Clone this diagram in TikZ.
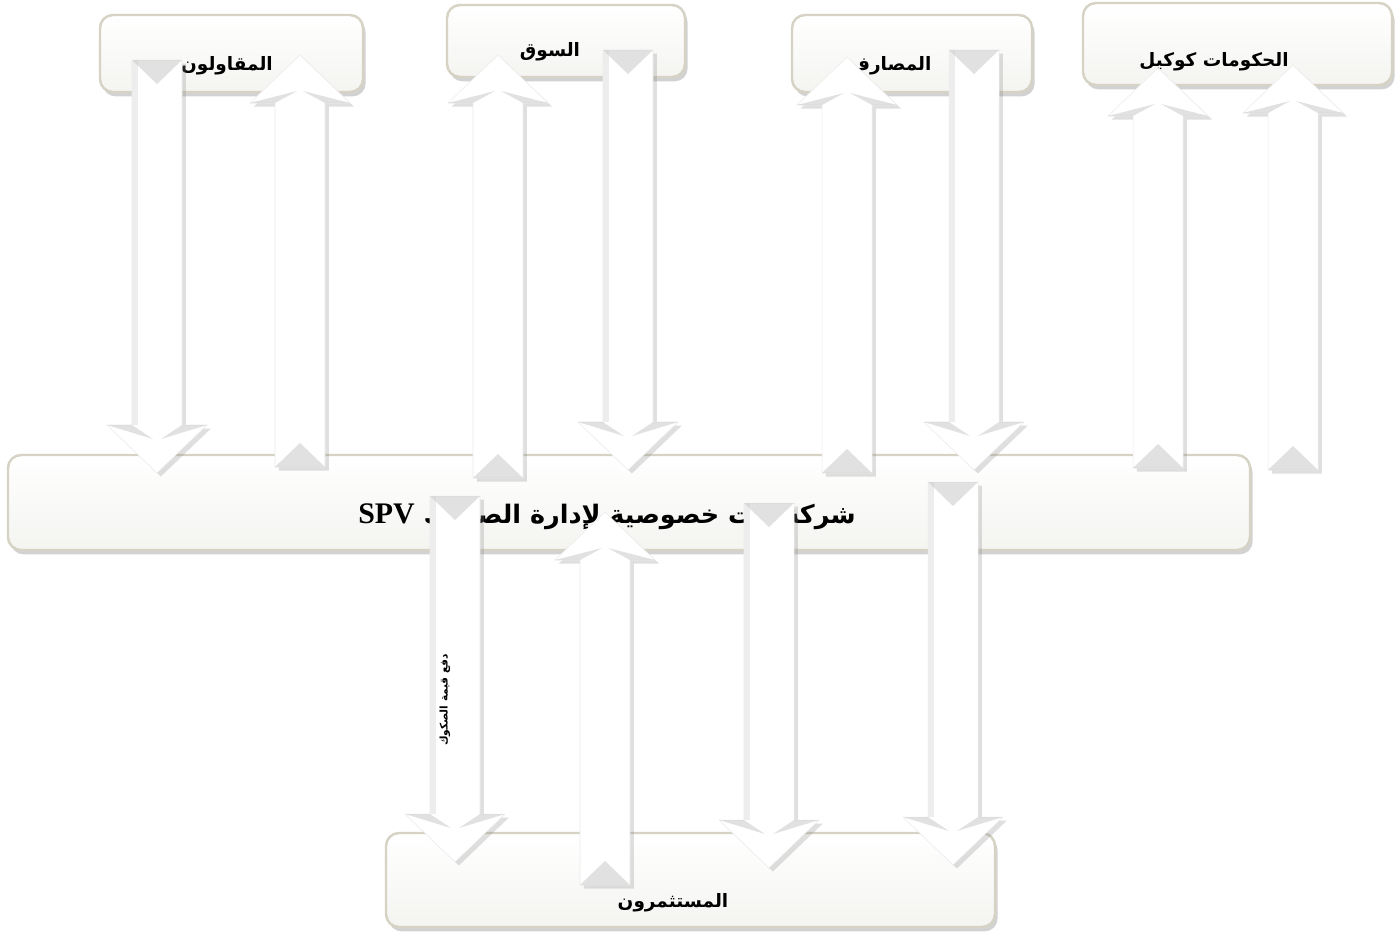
\documentclass[tikz,border=0pt]{standalone}
\usepackage{fontspec}
\setmainfont{Liberation Serif}
\newfontfamily\arabicfont[Script=Arabic]{DejaVu Sans}
\TeXXeTstate=1
\usetikzlibrary{shadows}

\definecolor{boxrim}{RGB}{214,211,196}
\definecolor{boxfill}{RGB}{244,244,241}
\definecolor{bevelgray}{RGB}{205,205,205}

\tikzset{
  panel/.style={draw=boxrim, line width=1.4pt, rounded corners=2.6mm,
    top color=white, bottom color=boxfill,
    drop shadow={shadow xshift=1.5pt, shadow yshift=-2.5pt, opacity=.35}},
  arrbody/.style={fill=white, draw=black!8, line width=.3pt,
    drop shadow={shadow xshift=2.2pt, shadow yshift=-2pt, opacity=.25}},
  bevel/.style={fill=bevelgray, opacity=.6},
  sidestrip/.style={fill=black!7},
  lbl/.style={font=\arabicfont\bfseries\fontsize{10.5}{13}\selectfont, inner sep=0pt},
}

% block arrow pointing down: centre x, top of shaft, tip
\newcommand{\blockdown}[3]{%
  \draw[arrbody] ({#1-25},#2) -- ({#1+25},#2) -- ({#1+25},{#3-48}) -- ({#1+50},{#3-48})
    -- (#1,#3) -- ({#1-50},{#3-48}) -- ({#1-25},{#3-48}) -- cycle;
  \fill[sidestrip] ({#1-25},#2) rectangle ({#1-19},{#3-48});
  \fill[bevel] ({#1-25},#2) -- ({#1+25},#2) -- (#1,{#2+24}) -- cycle;
  \fill[bevel] ({#1-50},{#3-48}) -- ({#1-25},{#3-48}) -- ({#1-4},{#3-34}) -- cycle;
  \fill[bevel] ({#1+50},{#3-48}) -- ({#1+25},{#3-48}) -- ({#1+4},{#3-34}) -- cycle;
}
% block arrow pointing up: centre x, tip, bottom of shaft
\newcommand{\blockup}[3]{%
  \draw[arrbody] ({#1-25},#3) -- ({#1-25},{#2+48}) -- ({#1-50},{#2+48}) -- (#1,#2)
    -- ({#1+50},{#2+48}) -- ({#1+25},{#2+48}) -- ({#1+25},#3) -- cycle;
  \fill[bevel] ({#1-25},#3) -- ({#1+25},#3) -- (#1,{#3-24}) -- cycle;
  \fill[bevel] ({#1-50},{#2+48}) -- ({#1-25},{#2+48}) -- ({#1-3},{#2+36}) -- cycle;
  \fill[bevel] ({#1+50},{#2+48}) -- ({#1+25},{#2+48}) -- ({#1+3},{#2+36}) -- cycle;
}

\begin{document}
\begin{tikzpicture}[x=0.2mm, y=-0.2mm]
\useasboundingbox[fill=white] (0,0) rectangle (1395,936);

% boxes
\node[panel, minimum width=52.6mm, minimum height=15.4mm] (contr) at (231.5,53.5) {};
\node[panel, minimum width=47.6mm, minimum height=14.4mm] (market) at (566,41) {};
\node[panel, minimum width=48mm, minimum height=15.4mm] (banks) at (912,53.5) {};
\node[panel, minimum width=61.8mm, minimum height=16.4mm] (govt) at (1237.5,44) {};
\node[panel, minimum width=248.4mm, minimum height=19mm] (spv) at (629,502.5) {};
\node[panel, minimum width=121.8mm, minimum height=18.8mm] (invest) at (690.5,880) {};

% texts
\node[lbl] (contrtxt) at (227,66) {\beginR المقاولون\endR};
\node[lbl] (markettxt) at (550,52) {\beginR السوق\endR};
\node[lbl] (bankstxt) at (890,66) {\beginR المصارف\endR};
\node[lbl] (govttxt) at (1214,62) {\beginR الحكومات كوكيل\endR};
\node[lbl, font=\arabicfont\bfseries\fontsize{14.5}{16}\selectfont] (spvtxt) at (607,517)
  {\beginR شركة ذات خصوصية لإدارة الصكوك \beginL\rmfamily\bfseries\fontsize{17}{18}\selectfont SPV\endL\endR};
\node[lbl] (investtxt) at (673,903) {\beginR المستثمرون\endR};

% arrows between the top boxes and the SPV
\blockdown{157}{60}{473}
\blockup{300}{55}{467}
\blockup{498}{55}{478}
\blockdown{628}{50}{470}
\blockup{847}{57}{473}
\blockdown{974}{50}{470}
\blockup{1158}{68}{468}
\blockup{1293}{65}{470}

% arrows between the SPV and the investors
\blockdown{455}{496}{862}
\blockup{605}{512}{885}
\blockdown{769}{503}{868}
\blockdown{953}{482}{865}

\node[lbl, rotate=90, font=\arabicfont\bfseries\fontsize{6}{7}\selectfont] (paytxt) at (445,700)
  {\beginR دفع قيمة الصكوك\endR};
\end{tikzpicture}
\end{document}
